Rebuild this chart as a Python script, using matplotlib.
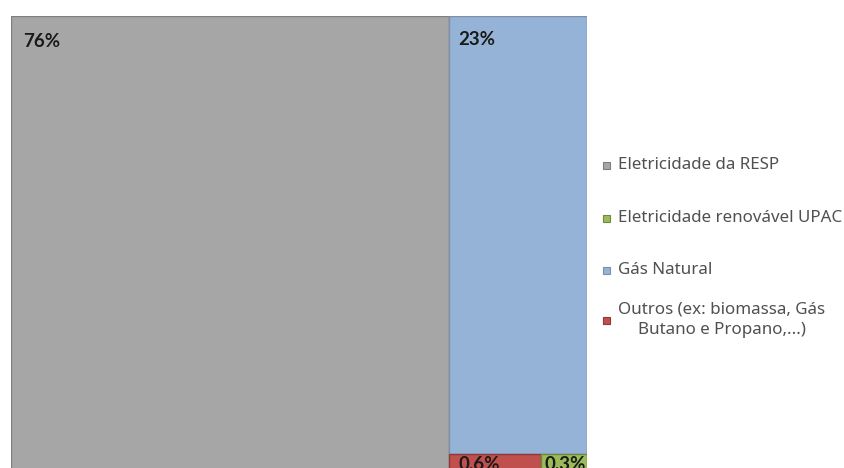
import matplotlib
matplotlib.use("Agg")
import matplotlib.pyplot as plt
from matplotlib.patches import Rectangle

categories = ["Eletricidade da RESP", "Gás Natural", "Outros (ex: biomassa, Gás\nButano e Propano,...)", "Eletricidade renovável UPAC"]
values = [76, 23, 0.6, 0.3]
labels = ["76%", "23%", "0.6%", "0.3%"]
colors = ["#a6a6a6", "#95b3d7", "#c0504d", "#9bbb59"]
edges = ["#7f7f7f", "#7f8fa6", "#8c3b39", "#71893f"]

legend_order = ["Eletricidade da RESP", "Eletricidade renovável UPAC", "Gás Natural",
                "Outros (ex: biomassa, Gás\nButano e Propano,...)"]

plt.rcParams['font.family'] = ['Noto Sans', 'DejaVu Sans']

fig = plt.figure(figsize=(8.45, 4.68), dpi=100)
W, H = 845, 468
left, right, top, bottom = 11, 587, 16, 471
ax = fig.add_axes([left / W, 1 - bottom / H, (right - left) / W, (bottom - top) / H])
total = sum(values)
ax.set_xlim(0, total)
ax.set_ylim(0, 1)
ax.axis('off')

# layout: first item full height column, second on top of remaining column, last two share the bottom row
rects = []
rects.append((0, 0, values[0], 1))
rest = total - values[0]
h1 = values[1] / rest
rects.append((values[0], 1 - h1, rest, h1))
bottom_sum = values[2] + values[3]
w2 = rest * values[2] / bottom_sum
rects.append((values[0], 0, w2, 1 - h1))
rects.append((values[0] + w2, 0, rest - w2, 1 - h1))

for (x, y, w, h), c, e in zip(rects, colors, edges):
    ax.add_patch(Rectangle((x, y), w, h, facecolor=c, edgecolor=e, linewidth=1.0))

# labels: offset in pixels from top-left corner of each rect
offsets = [(12, -17), (9, -15), (9, -2), (3, -2)]
for (x, y, w, h), lab, (dx, dy) in zip(rects, labels, offsets):
    ax.annotate(lab, xy=(x, y + h), xytext=(dx, dy), textcoords='offset pixels',
                ha='left', va='top', fontsize=13.5, fontweight='bold', color='#1a1a1a',
                family=['Lato', 'DejaVu Sans'])

# legend
leg_y = [165, 218, 270, 320]
cmap = dict(zip(categories, zip(colors, edges)))
for name, yy in zip(legend_order, leg_y):
    c, e = cmap[name]
    fig.add_artist(Rectangle((603 / W, 1 - (yy + 3.5) / H), 7 / W, 7 / H,
                             facecolor=c, edgecolor=e, linewidth=0.8,
                             transform=fig.transFigure))
    t = fig.text(618.5 / W, 1 - yy / H, name, ha='left', va='center', fontsize=12.2,
                 color='#505050', linespacing=1.35)
    t.set_multialignment('center')

fig.savefig("out.png", dpi=100)
